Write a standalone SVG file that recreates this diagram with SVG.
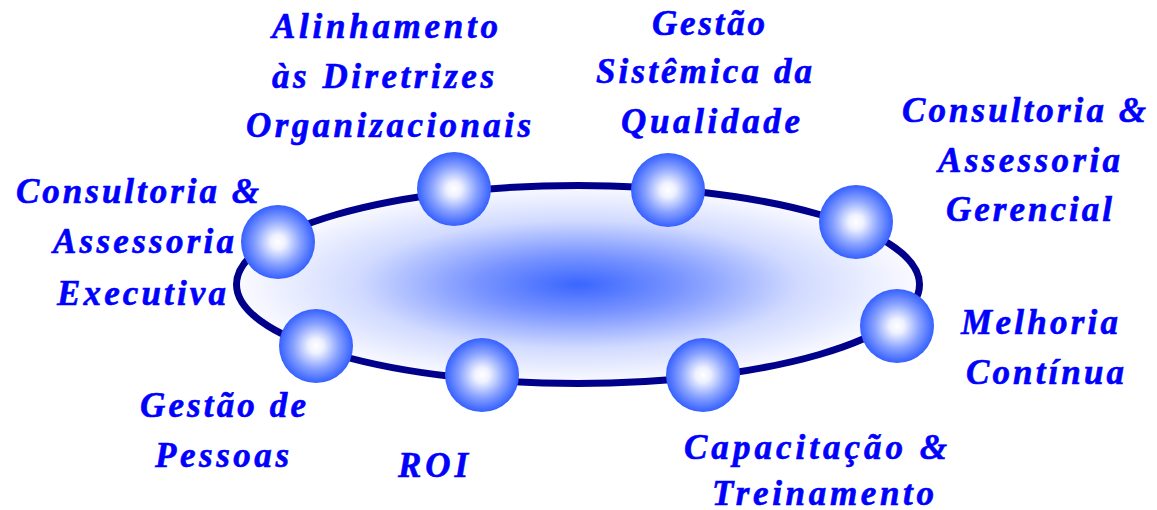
<svg xmlns="http://www.w3.org/2000/svg" width="1157" height="510" viewBox="0 0 1157 510">
  <defs>
    <radialGradient id="ellGrad" cx="0.5" cy="0.5" r="0.5">
      <stop offset="0" stop-color="#3a66ff"/>
      <stop offset="0.3" stop-color="#7a95ff"/>
      <stop offset="0.65" stop-color="#d2dbff"/>
      <stop offset="1" stop-color="#fbfbff"/>
    </radialGradient>
    <radialGradient id="sphGrad" cx="0.5" cy="0.5" r="0.5">
      <stop offset="0" stop-color="#ffffff"/>
      <stop offset="0.2" stop-color="#eef1ff"/>
      <stop offset="0.6" stop-color="#8aa3ff"/>
      <stop offset="1" stop-color="#3560ff"/>
    </radialGradient>
  </defs>
  <style>
    .lbl { font-family: "Liberation Serif", "Times New Roman", serif; font-weight: bold; font-style: italic; font-size: 35px; fill: #0000ff; stroke: #0000ff; stroke-width: 0.6; }
    .sph { fill: url(#sphGrad); }
    .ring { fill: url(#ellGrad); stroke: #00008b; stroke-width: 7; }
  </style>
  <rect width="1157" height="510" fill="#ffffff"/>
  <g id="connectors">
    <ellipse class="ring" cx="578" cy="284.5" rx="341.5" ry="99"/>
  </g>
  <g id="node-alinhamento">
    <circle class="sph" cx="454" cy="189" r="37"/>
    <text class="lbl" x="272" y="38" textLength="226" lengthAdjust="spacing">Alinhamento</text>
    <text class="lbl" x="272" y="88" textLength="222" lengthAdjust="spacing">às Diretrizes</text>
    <text class="lbl" x="246" y="137" textLength="285" lengthAdjust="spacing">Organizacionais</text>
  </g>
  <g id="node-gestao-sistemica">
    <circle class="sph" cx="668" cy="190" r="37"/>
    <text class="lbl" x="652" y="35" textLength="113" lengthAdjust="spacing">Gestão</text>
    <text class="lbl" x="596" y="83" textLength="216" lengthAdjust="spacing">Sistêmica da</text>
    <text class="lbl" x="621" y="133" textLength="179" lengthAdjust="spacing">Qualidade</text>
  </g>
  <g id="node-consultoria-gerencial">
    <circle class="sph" cx="856" cy="222" r="37"/>
    <text class="lbl" x="902" y="122" textLength="244" lengthAdjust="spacing">Consultoria &amp;</text>
    <text class="lbl" x="938" y="172" textLength="182" lengthAdjust="spacing">Assessoria</text>
    <text class="lbl" x="946" y="221" textLength="166" lengthAdjust="spacing">Gerencial</text>
  </g>
  <g id="node-melhoria">
    <circle class="sph" cx="897" cy="326" r="37"/>
    <text class="lbl" x="961" y="334" textLength="157" lengthAdjust="spacing">Melhoria</text>
    <text class="lbl" x="966" y="384" textLength="158" lengthAdjust="spacing">Contínua</text>
  </g>
  <g id="node-capacitacao">
    <circle class="sph" cx="703" cy="375" r="37"/>
    <text class="lbl" x="684" y="459" textLength="263" lengthAdjust="spacing">Capacitação  &amp;</text>
    <text class="lbl" x="712" y="505" textLength="222" lengthAdjust="spacing">Treinamento</text>
  </g>
  <g id="node-roi">
    <circle class="sph" cx="482" cy="375" r="37"/>
    <text class="lbl" x="398" y="477" textLength="70" lengthAdjust="spacing">ROI</text>
  </g>
  <g id="node-gestao-pessoas">
    <circle class="sph" cx="316" cy="346" r="37"/>
    <text class="lbl" x="140" y="417" textLength="166" lengthAdjust="spacing">Gestão de</text>
    <text class="lbl" x="155" y="467" textLength="134" lengthAdjust="spacing">Pessoas</text>
  </g>
  <g id="node-consultoria-executiva">
    <circle class="sph" cx="278" cy="242" r="37"/>
    <text class="lbl" x="16" y="203" textLength="243" lengthAdjust="spacing">Consultoria &amp;</text>
    <text class="lbl" x="53" y="253" textLength="181" lengthAdjust="spacing">Assessoria</text>
    <text class="lbl" x="57" y="305" textLength="169" lengthAdjust="spacing">Executiva</text>
  </g>
</svg>
